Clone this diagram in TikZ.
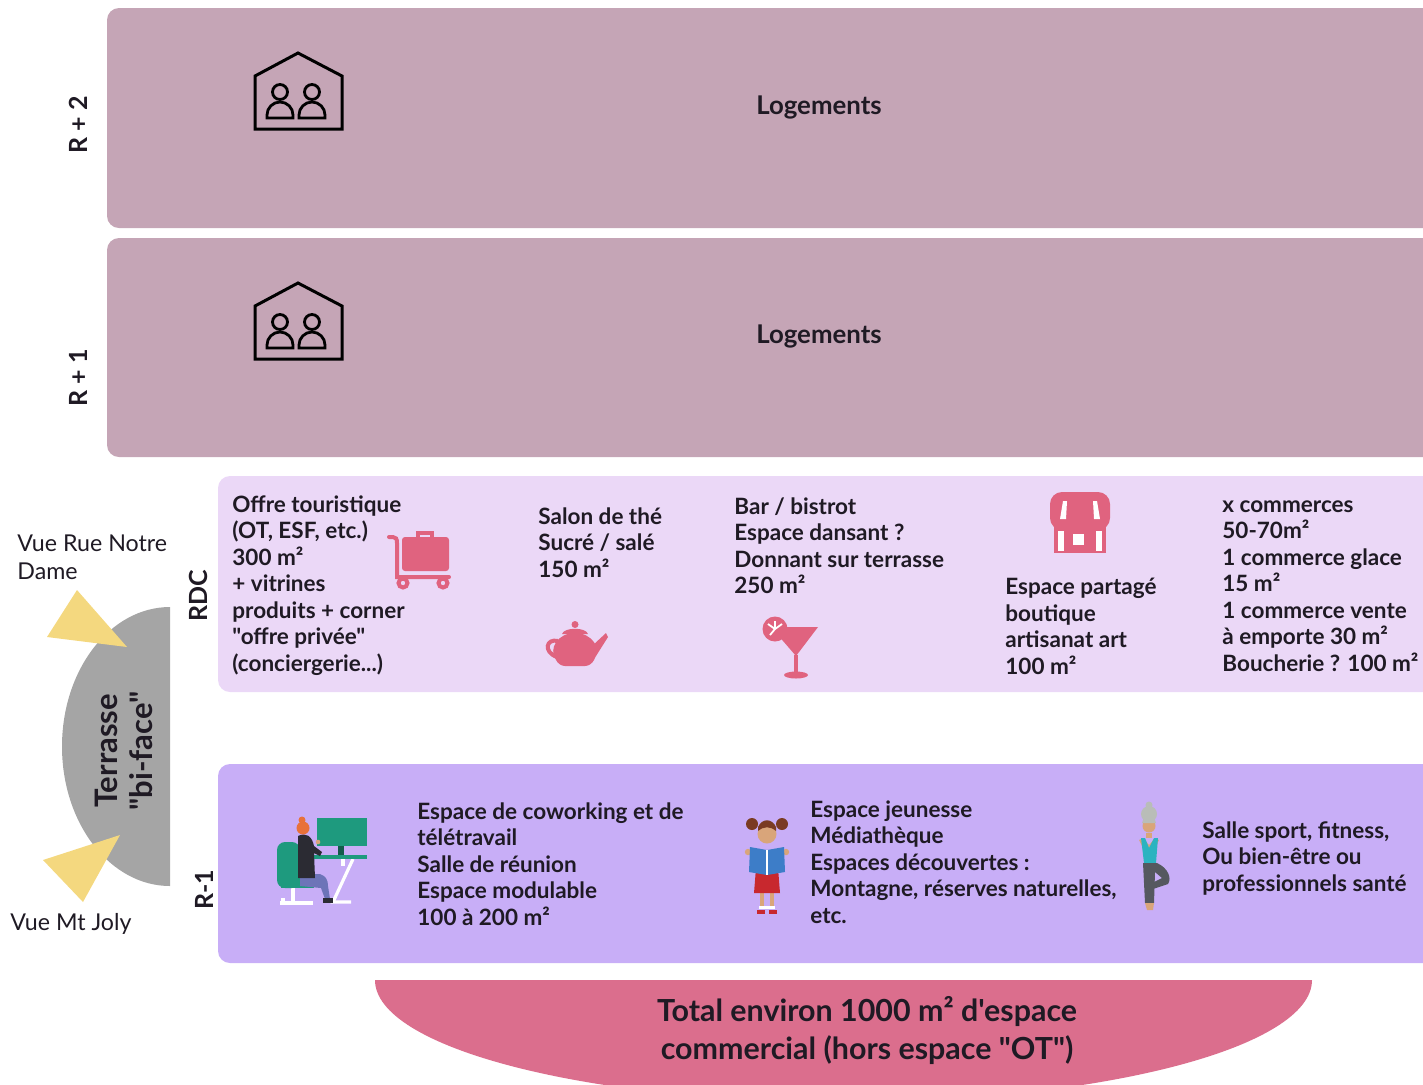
\documentclass[tikz,border=0pt]{standalone}
\usepackage{fontspec}
\newfontfamily\lat{Lato}
\definecolor{upper}{HTML}{C5A5B6}
\definecolor{rdc}{HTML}{EBD8F7}
\definecolor{basement}{HTML}{C8AEF7}
\definecolor{icon}{HTML}{E0637F}
\definecolor{total}{HTML}{DB6E8D}
\definecolor{terrace}{HTML}{A5A5A5}
\definecolor{view}{HTML}{F4D87F}
\definecolor{ink}{HTML}{1F1A24}
\definecolor{deskgreen}{HTML}{1E9A7E}
\definecolor{hair}{HTML}{E8713A}
\definecolor{jacket}{HTML}{2B2B33}
\definecolor{jeans}{HTML}{6D74B8}
\definecolor{skin}{HTML}{D9A57A}
\definecolor{brownhair}{HTML}{7A3B22}
\definecolor{bookblue}{HTML}{3D7DC8}
\definecolor{dressred}{HTML}{C8282E}
\definecolor{teal}{HTML}{2BB3C0}
\definecolor{legging}{HTML}{55585F}
\definecolor{greyhair}{HTML}{B9BDB8}
\begin{document}
\begin{tikzpicture}[x=0.5pt,y=-0.5pt,
  txt/.style={font=\lat\bfseries\fontsize{11.25}{13.25}\selectfont, align=left,
    anchor=north west, inner sep=0pt, text=ink},
  lvl/.style={font=\lat\bfseries\fontsize{12.5}{14}\selectfont, rotate=90,
    inner sep=0pt, text=ink},
  view label/.style={font=\lat\fontsize{11.6}{14}\selectfont, align=left,
    anchor=north west, inner sep=0pt, text=ink},
  floor/.style={font=\lat\bfseries\fontsize{12.9}{15}\selectfont, text=ink},
  house/.pic={
    \draw[line width=1.5pt, line join=miter] (2,77) -- (2,24) -- (45,1) -- (89,24) -- (89,77) -- cycle;
    \draw[line width=1.4pt] (27,40) circle[radius=7.5];
    \draw[line width=1.4pt] (59,40) circle[radius=7.5];
    \draw[line width=1.4pt] (14,66) -- (14,63) arc[start angle=180, end angle=360, radius=13] -- (40,66) -- cycle;
    \draw[line width=1.4pt] (46,66) -- (46,63) arc[start angle=180, end angle=360, radius=13] -- (72,66) -- cycle;
  }]
\useasboundingbox (0,0) rectangle (1423,1084);
\clip (0,0) rectangle (1423,1084);

% ---------- floor bands ----------
\fill[upper, rounded corners=6pt] (1450,8) -- (107,8) -- (107,228) -- (1450,228) -- cycle;
\fill[upper, rounded corners=6pt] (1450,238) -- (107,238) -- (107,457) -- (1450,457) -- cycle;
\fill[rdc, rounded corners=6pt] (1450,476) -- (218,476) -- (218,692) -- (1450,692) -- cycle;
\fill[basement, rounded corners=6pt] (1450,764) -- (218,764) -- (218,963) -- (1450,963) -- cycle;

% ---------- level labels ----------
\node[lvl] (r2) at (78,125) {R + 2};
\node[lvl] (r1) at (78,378) {R + 1};
\node[lvl] (rdcl) at (198,596) {RDC};
\node[lvl] (rm1) at (204,890) {R-1};

% ---------- upper floors ----------
\pic at (253,52) {house};
\pic at (253,282) {house};
\node[floor] (log2) at (819,107) {Logements};
\node[floor] (log1) at (819,336) {Logements};

% ---------- terrace ----------
\fill[terrace] (170,607) arc[start angle=270, end angle=90, x radius=108, y radius=139.5] -- cycle;
\fill[view] (77,590) -- (47,637) -- (127,647) -- cycle;
\fill[view] (43,860) -- (120,835) -- (83,902) -- cycle;
\node[font=\lat\bfseries\fontsize{15.5}{17.5}\selectfont, align=center, rotate=90, text=ink, inner sep=0pt]
  (terr) at (124,751) {Terrasse\\"bi-face"};
\node[view label] (vrnd) at (17,534) {Vue Rue Notre\\Dame};
\node[view label] (vmj) at (10,913) {Vue Mt Joly};

% ---------- RDC ----------
\node[txt] (ot) at (232,495) {Offre touristique\\(OT, ESF, etc.)\\300 m²\\+ vitrines\\produits + corner\\"offre privée"\\(conciergerie...)};
\node[txt] (the) at (538,507) {Salon de thé\\Sucré / salé\\150 m²};
\node[txt] (bar) at (734,497) {Bar / bistrot\\Espace dansant ?\\Donnant sur terrasse\\250 m²};
\node[txt] (art) at (1005,578) {Espace partagé\\boutique\\artisanat art\\100 m²};
\node[txt] (com) at (1222,495) {\vphantom{l}x commerces\\50-70m²\\1 commerce glace\\15 m²\\1 commerce vente\\à emporte 30 m²\\Boucherie ? 100 m²};

% luggage trolley
\draw[icon, line width=2pt, line cap=round] (389,537) -- (393,537) .. controls (396,537) and (397,539) .. (397,543) -- (397,577) -- (449,577);
\fill[icon, rounded corners=1.5pt] (402,537) rectangle (449,571);
\draw[icon, line width=2pt] (418,537) -- (418,533) -- (432,533) -- (432,537);
\draw[icon, line width=2pt] (403,583) circle[radius=4.5];
\draw[icon, line width=2pt] (443,583) circle[radius=4.5];

% teapot
\fill[icon] (556,660) .. controls (548,648) and (558,633) .. (575,633) .. controls (592,633) and (602,648) .. (594,660) .. controls (592,664) and (588,666) .. (585,666) -- (565,666) .. controls (562,666) and (558,664) .. (556,660) -- cycle;
\fill[icon] (562,634) .. controls (564,627) and (586,627) .. (588,634) -- cycle;
\fill[icon] (575,624.5) circle[radius=3.5];
\fill[icon] (592,646) -- (606,633) -- (608,637) -- (596,656) -- cycle;
\draw[icon, line width=2pt] (558,641) .. controls (546,638) and (543,652) .. (557,657);

% cocktail
\fill[icon] (771,627) -- (818,627) -- (796,656) -- cycle;
\draw[icon, line width=2.4pt] (796,655) -- (796,673);
\fill[icon] (796,675) ellipse[x radius=12, y radius=3.5];
\fill[icon] (775,629) circle[radius=12.5];
\draw[white, line width=0.9pt] (775,629) -- (775,621) (775,629) -- (768,624) (775,629) -- (782,624) (775,629) -- (770,635);

% shop front
\fill[icon, rounded corners=6pt] (1050,492) -- (1110,492) -- (1110,530) -- (1050,530) -- cycle;
\fill[icon] (1054,525) rectangle (1106,553);
\fill[white] (1063,501) -- (1067,501) -- (1066,519) -- (1060,519) -- cycle;
\fill[white] (1093,501) -- (1097,501) -- (1100,519) -- (1094,519) -- cycle;
\fill[white] (1073,534) rectangle (1084,545);
\fill[white] (1058,530) rectangle (1064,551);
\fill[white] (1096,530) rectangle (1102,551);
\fill[icon] (1054,527) rectangle (1106,531);

% ---------- R-1 ----------
\node[txt] (cow) at (417,802) {Espace de coworking et de\\télétravail\\Salle de réunion\\Espace modulable\\100 à 200 m²};
\node[txt] (jeu) at (810,800) {Espace jeunesse\\Médiathèque\\Espaces découvertes :\\Montagne, réserves naturelles,\\etc.};
\node[txt] (spo) at (1202,821) {Salle sport, fitness,\\Ou bien-être ou\\professionnels santé};

% coworking illustration
\draw[white, line width=1.6pt] (353,859) -- (333,902) -- (351,902);
\draw[white, line width=1.6pt] (343,859) -- (343,866);
\fill[deskgreen] (317,818) rectangle (367,846);
\fill[deskgreen!60!black] (338,846) rectangle (344,855);
\fill[deskgreen] (310,855) rectangle (367,859);
\draw[white, line width=1.6pt] (280,903) -- (313,903) (293,888) -- (293,903) (283,898) -- (283,903);
\fill[deskgreen, rounded corners=4pt] (277,842) rectangle (300,888);
\fill[deskgreen] (281,880) rectangle (314,888);
\fill[jeans] (300,874) -- (320,874) .. controls (326,876) and (328,880) .. (328,886) -- (330,899) -- (325,899) -- (321,888) -- (300,886) -- cycle;
\fill[jacket] (298,836) .. controls (306,832) and (312,836) .. (314,846) -- (322,852) -- (320,856) -- (314,853) -- (315,878) -- (298,878) -- cycle;
\fill[jacket] (323,898) rectangle (333,903);
\fill[skin] (318,842) circle[radius=2.3];
\fill[hair] (303,828) circle[radius=6.5];
\fill[hair] (302,820) circle[radius=3.5];

% girl reading
\fill[skin] (760,892) rectangle (764,908);
\fill[skin] (770,892) rectangle (774,908);
\fill[white] (759,906) rectangle (775,909);
\fill[dressred] (757,910) rectangle (765,914);
\fill[dressred] (769,910) rectangle (777,914);
\fill[dressred] (756,868) -- (778,868) -- (780,893) -- (754,893) -- cycle;
\fill[skin] (767,834) circle[radius=9.5];
\fill[brownhair] (758,827) .. controls (762,818) and (772,818) .. (776,827) -- (776,831) .. controls (770,826) and (764,826) .. (758,831) -- cycle;
\fill[brownhair] (752,824) circle[radius=6];
\fill[brownhair] (782,824) circle[radius=6];
\fill[skin] (748,852) circle[radius=3.2];
\fill[skin] (786,852) circle[radius=3.2];
\fill[bookblue] (750,847) -- (767,850) -- (784,847) -- (785,872) -- (767,875) -- (749,872) -- cycle;
\draw[white, line width=0.6pt] (767,850) -- (767,875);

% yoga pose
\fill[greyhair] (1149,814) circle[radius=8];
\fill[greyhair] (1149,805) circle[radius=3.5];
\fill[skin] (1149,826) circle[radius=6.5];
\fill[greyhair] (1142,823) .. controls (1143,815) and (1155,815) .. (1156,823) -- cycle;
\fill[skin] (1146,833) rectangle (1152,838);
\fill[skin] (1139,840) -- (1145,852) -- (1149,848) -- (1153,852) -- (1159,840) -- (1155,838) -- (1149,845) -- (1143,838) -- cycle;
\fill[teal] (1141,838) -- (1144,863) -- (1156,863) -- (1158,838) -- (1154,838) -- (1149,848) -- (1145,838) -- cycle;
\fill[legging] (1143,863) -- (1157,863) .. controls (1168,868) and (1172,878) .. (1168,884) -- (1153,889) -- (1154,882) -- (1162,878) -- (1155,872) -- (1154,903) -- (1145,903) -- cycle;
\fill[skin] (1145,903) -- (1154,903) -- (1153,910) -- (1147,910) -- cycle;

% ---------- total ----------
\fill[total] (375,980) -- (1312,980) arc[start angle=0, end angle=180, x radius=468.5, y radius=122] -- cycle;
\node[font=\lat\bfseries\fontsize{15.2}{19}\selectfont, align=center, text=ink] (tot) at (867,1030)
  {Total environ 1000 m² d'espace\\commercial (hors espace "OT")};
\end{tikzpicture}
\end{document}
